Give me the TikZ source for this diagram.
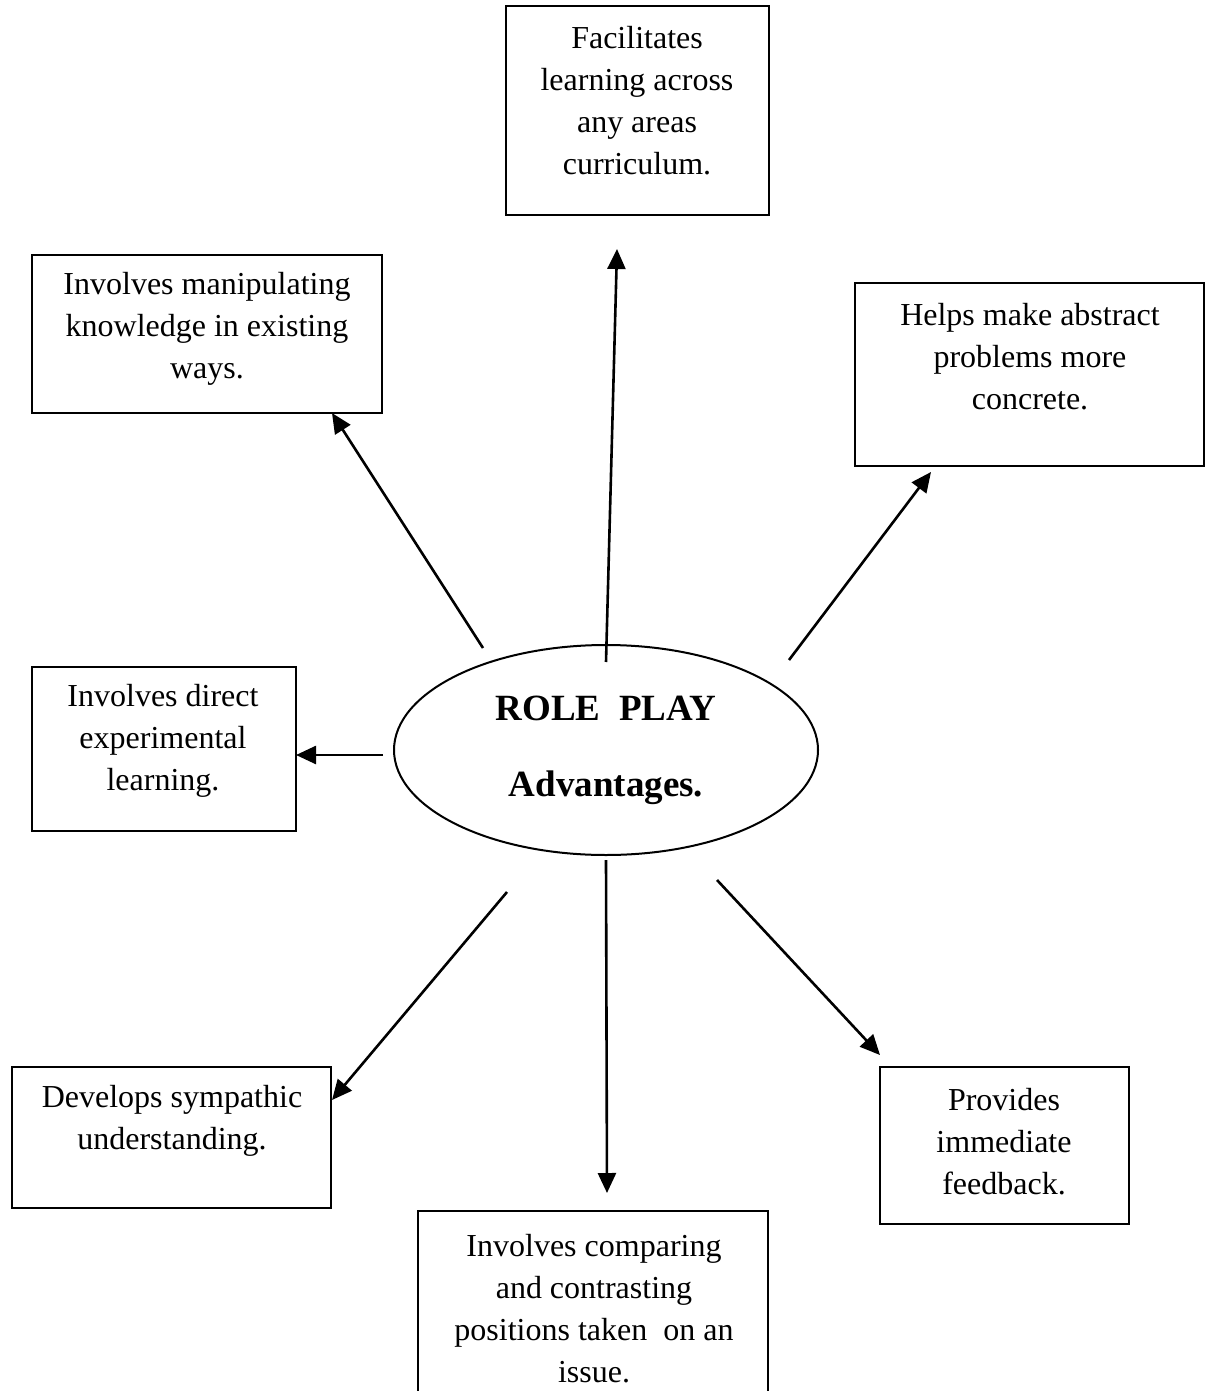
\documentclass[tikz,border=0pt]{standalone}
\usepackage{fontspec}
\setmainfont{Liberation Serif}
\usetikzlibrary{arrows.meta, positioning, shapes.geometric}

\begin{document}
\begin{tikzpicture}[x=0.5pt, y=0.5pt,
    box/.style={draw, line width=1pt, inner sep=0pt},
    txt/.style={align=center, inner sep=0pt, font=\fontsize{16pt}{21pt}\selectfont},
    arr/.style={line width=1.3pt, -{Triangle[length=10pt, width=9pt]}}]
    \useasboundingbox (0,0) rectangle (1205,-1391);
    \clip (0,0) rectangle (1205,-1391);

    % Centre
    \node[draw, ellipse, line width=1pt, minimum width=212pt, minimum height=105pt,
      align=center, font=\fontsize{18.5pt}{38pt}\selectfont\bfseries]
      (role) at (606,-750) {ROLE~~PLAY\\Advantages.};

    % Boxes
    \node[box, minimum width=131.5pt, minimum height=104.5pt] (facil) at (637.5,-110.5) {};
    \node[box, minimum width=175pt, minimum height=79pt] (manip) at (207,-334) {};
    \node[box, minimum width=174.5pt, minimum height=91.5pt] (abstr) at (1029.5,-374.5) {};
    \node[box, minimum width=132pt, minimum height=82pt] (direct) at (164,-749) {};
    \node[box, minimum width=159.5pt, minimum height=70.5pt] (sympa) at (171.5,-1137.5) {};
    \node[box, minimum width=175pt, minimum height=94.5pt] (compar) at (593,-1305.5) {};
    \node[box, minimum width=124.5pt, minimum height=78.5pt] (feedb) at (1004.5,-1145.5) {};

    % Box texts
    \node[txt] (facil-t) at (637,-101) {Facilitates\\learning across\\any areas\\curriculum.};
    \node[txt] (manip-t) at (207,-329) {Involves manipulating\\knowledge in existing\\ways.};
    \node[txt] (abstr-t) at (1030,-357) {Helps make abstract\\problems more\\concrete.};
    \node[txt] (direct-t) at (163,-741) {Involves direct\\experimental\\learning.};
    \node[txt] (sympa-t) at (172,-1121) {Develops sympathic\\understanding.};
    \node[txt] (compar-t) at (594,-1309) {Involves comparing\\and contrasting\\positions taken~~on an\\issue.};
    \node[txt] (feedb-t) at (1004,-1142) {Provides\\immediate\\feedback.};

    % Arrow ends
    \coordinate (s1) at (606,-662);  \coordinate (e1) at (617,-249);
    \coordinate (s2) at (483,-648);  \coordinate (e2) at (332,-413);
    \coordinate (s3) at (789,-660);  \coordinate (e3) at (931,-472);
    \coordinate (s4) at (383,-755);  \coordinate (e4) at (296,-755);
    \coordinate (s5) at (507,-892);  \coordinate (e5) at (332,-1100);
    \coordinate (s6) at (606,-860);  \coordinate (e6) at (607,-1193);
    \coordinate (s7) at (717,-880);  \coordinate (e7) at (880,-1055);

    % Arrows
    \foreach \i in {1,...,7} {
      \draw[arr] (s\i) -- (e\i);
    }
  \end{tikzpicture}
\end{document}
